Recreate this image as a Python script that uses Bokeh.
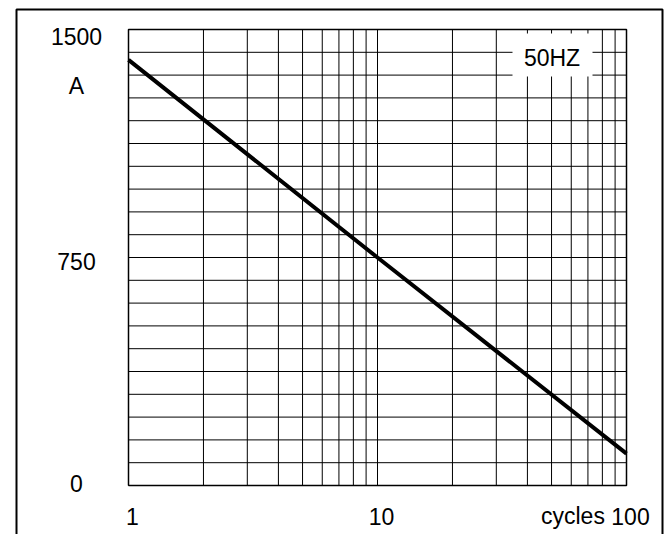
import math
from bokeh.plotting import figure
from bokeh.models import Range1d
from bokeh.core.properties import value
from bokeh.embed import file_html
from bokeh.resources import INLINE

# ---- data ----
cycles = [1, 10, 100]
current = [1400, 750, 105]

x_tick_values = [1, 10, 100]
x_tick_labels = ["1", "10", "100"]
y_tick_values = [0, 750, 1500]
y_tick_labels = ["0", "750", "1500"]
x_grid_values = [1, 2, 3, 4, 5, 6, 7, 8, 9, 10,
                 20, 30, 40, 50, 60, 70, 80, 90, 100]
y_grid_values = [0, 75, 150, 225, 300, 375, 450, 525, 600, 675, 750,
                 825, 900, 975, 1050, 1125, 1200, 1275, 1350, 1425, 1500]
x_unit = "cycles"
y_unit = "A"
freq_label = "50HZ"

# ---- layout (pixels) ----
W, H = 667, 534
IL, IR, IT, IB = 128, 626, 29, 485          # inner grid box
FONT = "Liberation Sans"
SIZE = "23px"
XMIN, XMAX = x_tick_values[0], x_tick_values[-1]
YMIN, YMAX = y_tick_values[0], y_tick_values[-1]
dec_px = (IR - IL) / (math.log10(XMAX) - math.log10(XMIN))
unit_px = (IB - IT) / (YMAX - YMIN)


def px_x(px):
    return XMIN * 10 ** ((px - IL) / dec_px)


def px_y(py):
    return YMIN + (IB - py) / unit_px


def x_px(v):
    return IL + (math.log10(v) - math.log10(XMIN)) * dec_px


def y_px(v):
    return IB - (v - YMIN) * unit_px


p = figure(width=W, height=H, x_axis_type="log",
           x_range=Range1d(px_x(0), px_x(W)), y_range=Range1d(px_y(H), px_y(0)),
           output_backend="svg", toolbar_location=None, min_border=0)
p.xaxis.visible = False
p.yaxis.visible = False
p.grid.visible = False
p.outline_line_color = None
p.background_fill_color = "white"
p.border_fill_color = "white"

# grid
p.segment(x0=x_grid_values, x1=x_grid_values,
          y0=[YMIN] * len(x_grid_values), y1=[YMAX] * len(x_grid_values),
          line_color="black", line_width=1)
p.segment(x0=[XMIN] * len(y_grid_values), x1=[XMAX] * len(y_grid_values),
          y0=y_grid_values, y1=y_grid_values,
          line_color="black", line_width=1)
# inner border
p.line([XMIN, XMAX, XMAX, XMIN, XMIN], [YMIN, YMIN, YMAX, YMAX, YMIN],
       line_color="black", line_width=1.5)

# 50HZ box and label
p.quad(left=px_x(512), right=px_x(592), top=px_y(33), bottom=px_y(76),
       fill_color="white", line_color=None)
p.text(x=[px_x(551.5)], y=[px_y(57)], text=[freq_label],
       text_font=value(FONT), text_font_size=value(SIZE), text_color="black",
       text_align="center", text_baseline="middle")

# data line
p.line(cycles, current, line_color="black", line_width=4)

# outer frame
p.line([px_x(16), px_x(16), px_x(662), px_x(662)],
       [px_y(H + 10), px_y(9), px_y(9), px_y(H + 10)],
       line_color="black", line_width=2)

# y tick labels
y_nudge = [2, -4, -7]
p.text(x=[px_x(76)] * len(y_tick_values),
       y=[px_y(y_px(v) - n) for v, n in zip(y_tick_values, y_nudge)],
       text=y_tick_labels, text_font=value(FONT), text_font_size=value(SIZE),
       text_color="black", text_align="center", text_baseline="middle")
p.text(x=[px_x(76)], y=[px_y(85)], text=[y_unit],
       text_font=value(FONT), text_font_size=value(SIZE), text_color="black",
       text_align="center", text_baseline="middle")

# x tick labels
p.text(x=[px_x(x_px(v) + 4) for v in x_tick_values],
       y=[px_y(515.5)] * len(x_tick_values), text=x_tick_labels,
       text_font=value(FONT), text_font_size=value(SIZE), text_color="black",
       text_align="center", text_baseline="middle")
p.text(x=[px_x(x_px(XMAX) + 4 - 19.2 - 6.4)], y=[px_y(515.5)], text=[x_unit],
       text_font=value(FONT), text_font_size=value(SIZE), text_color="black",
       text_align="right", text_baseline="middle")

open("out.html", "w").write(file_html(p, INLINE))
